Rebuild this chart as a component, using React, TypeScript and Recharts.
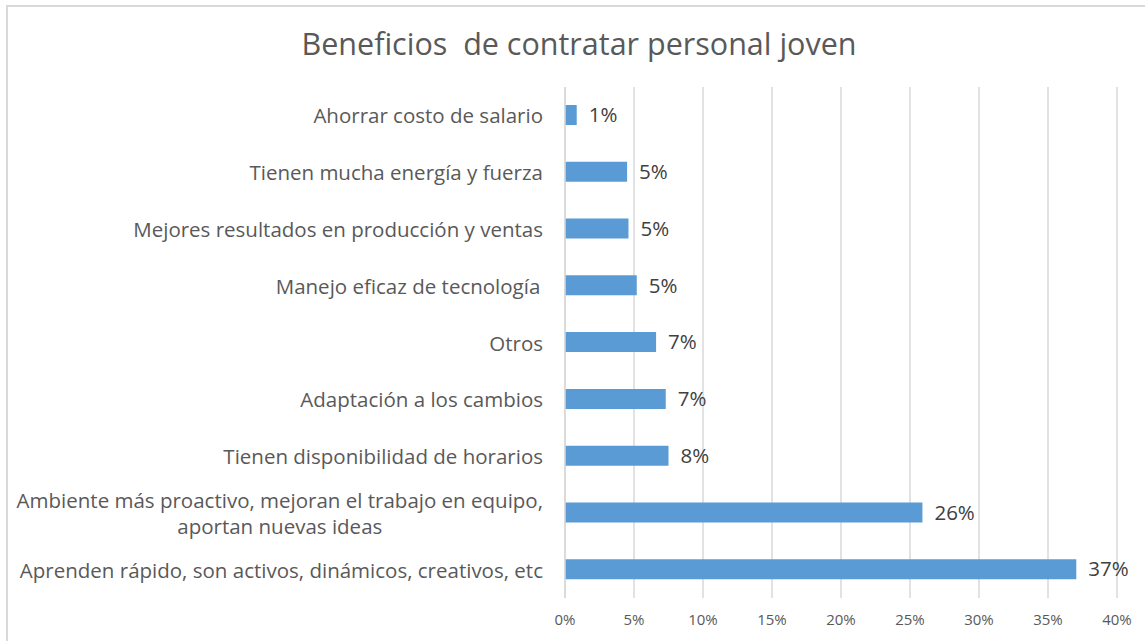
import { BarChart, Bar, XAxis, YAxis, CartesianGrid, LabelList } from 'recharts';

const categories = [
  'Ahorrar costo de salario',
  'Tienen mucha energía y fuerza',
  'Mejores resultados en producción y ventas',
  'Manejo eficaz de tecnología ',
  'Otros',
  'Adaptación a los cambios',
  'Tienen disponibilidad de horarios',
  'Ambiente más proactivo, mejoran el trabajo en equipo,\naportan nuevas ideas',
  'Aprenden rápido, son activos, dinámicos, creativos, etc',
];

// percentages
const values = [0.85, 4.5, 4.6, 5.2, 6.6, 7.3, 7.5, 25.9, 37.05];

const xTicks = [0, 5, 10, 15, 20, 25, 30, 35, 40];

const data = categories.map((name, i) => ({ name, value: values[i] }));

const FONT = '"Open Sans", "Noto Sans", sans-serif';

let ctx: CanvasRenderingContext2D | null = null;
function textWidth(s: string, font: string) {
  if (!ctx) ctx = document.createElement('canvas').getContext('2d');
  if (!ctx) return s.length * 9;
  ctx.font = font;
  return ctx.measureText(s).width;
}

function CategoryTick(props: any) {
  const { x, y, payload } = props;
  const lines: string[] = String(payload.value).split('\n');
  const widths = lines.map((l) => textWidth(l, `20.5px ${FONT}`));
  const maxW = Math.max(...widths);
  const right = x - 14;
  const cx = right - maxW / 2;
  const lh = 26;
  const start = y - ((lines.length - 1) * lh) / 2;
  return (
    <g>
      {lines.map((l, i) => (
        <text
          key={i}
          x={cx}
          y={start + i * lh}
          textAnchor="middle"
          dominantBaseline="central"
          fill="#595959"
          fontSize={20.5}
          fontFamily={FONT}
        >
          {l}
        </text>
      ))}
    </g>
  );
}

export default function App() {
  return (
    <div style={{ position: 'absolute', left: 0, top: 0, width: 1145, height: 641, overflow: 'hidden', background: '#fff' }}>
      <div
        style={{
          position: 'absolute',
          left: 6,
          top: 5,
          width: 1200,
          height: 700,
          border: '2px solid #d9d9d9',
          boxSizing: 'border-box',
        }}
      />
      <div
        style={{
          position: 'absolute',
          left: 6,
          top: 22,
          width: 1146,
          textAlign: 'center',
          fontFamily: FONT,
          fontSize: 30.5,
          color: '#595959',
          whiteSpace: 'pre',
        }}
      >
        {'Beneficios  de contratar personal joven'}
      </div>
      <div style={{ position: 'absolute', left: 0, top: 0 }}>
        <BarChart
          width={1145}
          height={641}
          data={data}
          layout="vertical"
          margin={{ top: 87, right: 28, bottom: 0, left: 0 }}
        >
          <CartesianGrid horizontal={false} stroke="#d9d9d9" strokeWidth={1.5} />
          <XAxis
            type="number"
            domain={[0, 40]}
            ticks={xTicks}
            tickFormatter={(v) => `${v}%`}
            axisLine={false}
            tickLine={false}
            tickMargin={10}
            height={43}
            tick={{ fill: '#595959', fontSize: 15, fontFamily: FONT }}
            interval={0}
          />
          <YAxis
            type="category"
            dataKey="name"
            width={565}
            axisLine={{ stroke: '#d9d9d9', strokeWidth: 1.5 }}
            tickLine={false}
            tick={<CategoryTick />}
            interval={0}
          />
          <Bar dataKey="value" fill="#5b9bd5" barSize={20} isAnimationActive={false}>
            <LabelList
              dataKey="value"
              position="right"
              offset={12}
              formatter={(v: any) => `${Math.round(Number(v))}%`}
              fill="#404040"
              fontSize={20.5}
              fontFamily={FONT}
            />
          </Bar>
        </BarChart>
      </div>
    </div>
  );
}
